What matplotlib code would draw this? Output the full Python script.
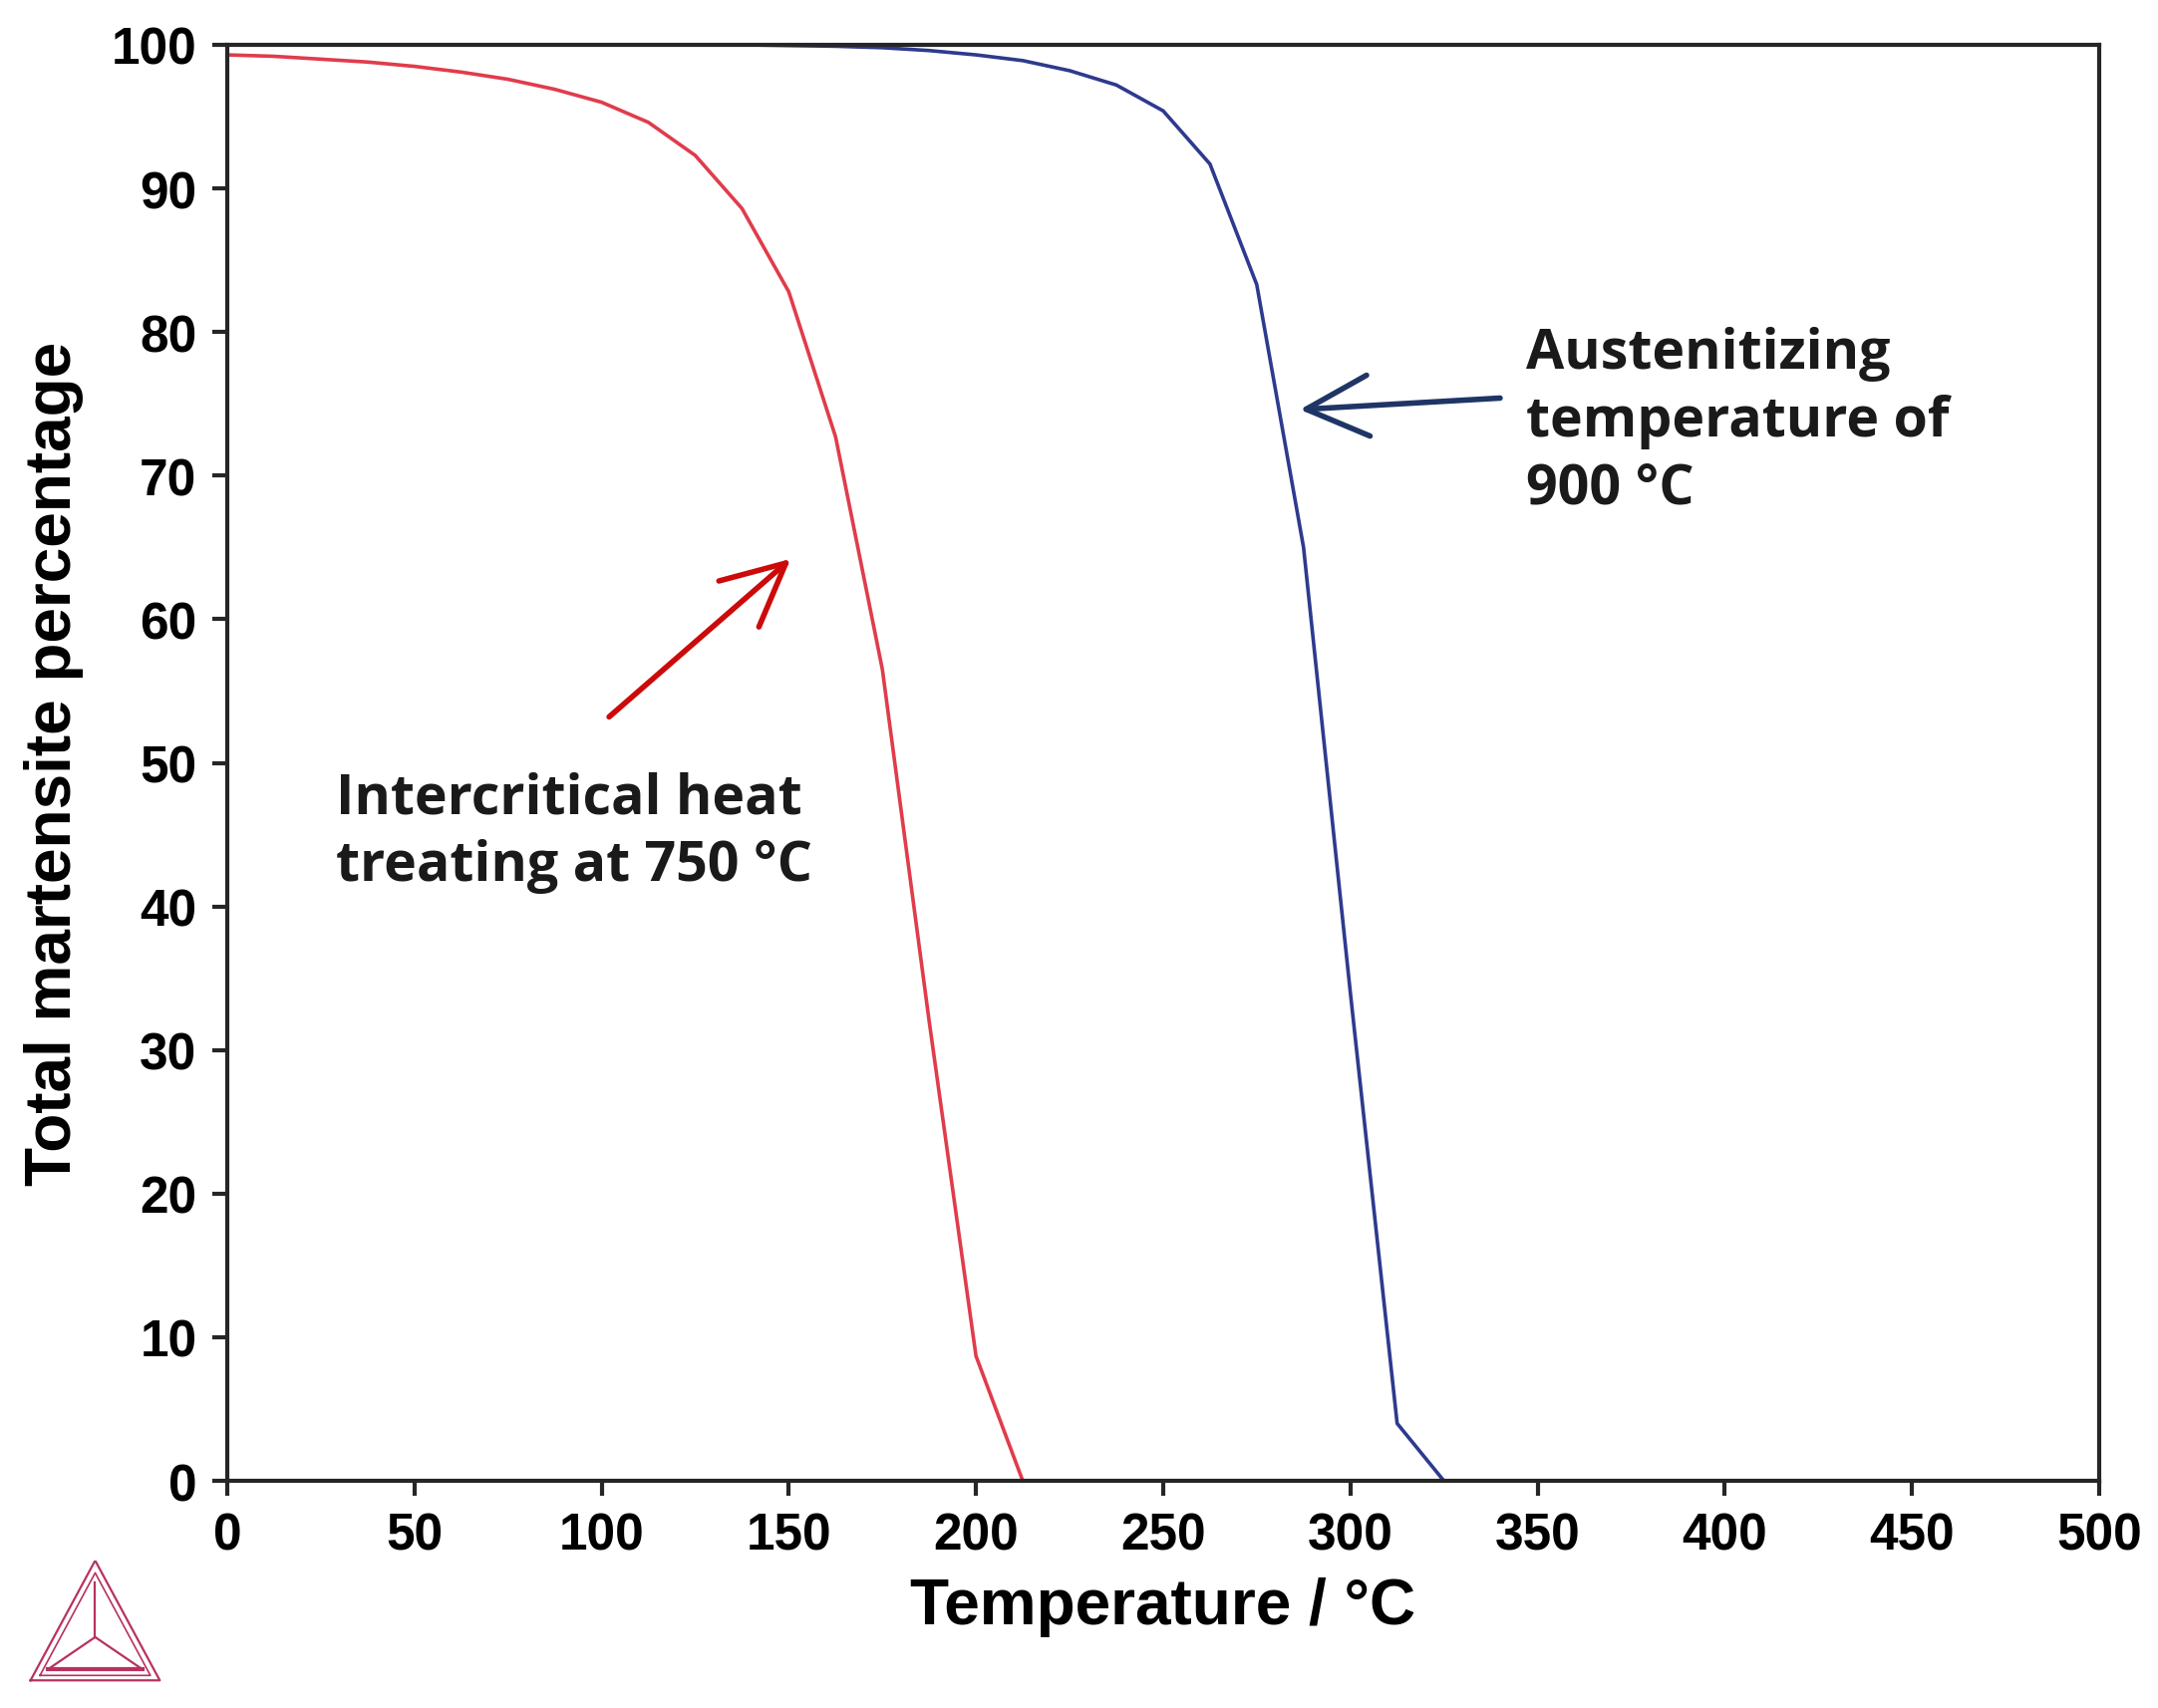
import matplotlib
matplotlib.use("Agg")
import matplotlib.pyplot as plt
from matplotlib import font_manager
import numpy as np

# curve data (temperature in degC, martensite in %)
temp_inter = [0, 12.5, 25, 37.5, 50, 62.5, 75, 87.5, 100, 112.5, 125, 137.5, 150,
              162.5, 175, 187.5, 200, 212.5, 250, 300, 350, 400, 450, 500]
mart_inter = [99.3, 99.2, 99.0, 98.8, 98.5, 98.1, 97.6, 96.9, 96.0, 94.6, 92.3, 88.6, 82.8,
              72.7, 56.5, 32.0, 8.7, 0.0, 0.0, 0.0, 0.0, 0.0, 0.0, 0.0]

temp_aust = [0, 50, 100, 137.5, 150, 162.5, 175, 187.5, 200, 212.5, 225, 237.5, 250,
             262.5, 275, 287.5, 300, 312.5, 325, 350, 400, 450, 500]
mart_aust = [100.0, 100.0, 100.0, 100.0, 99.95, 99.9, 99.8, 99.6, 99.3, 98.9, 98.2, 97.2, 95.4,
             91.7, 83.3, 65.0, 34.0, 4.0, 0.0, 0.0, 0.0, 0.0, 0.0]

x_ticks = [0, 50, 100, 150, 200, 250, 300, 350, 400, 450, 500]
y_ticks = [0, 10, 20, 30, 40, 50, 60, 70, 80, 90, 100]

RED = "#e03c4c"
BLUE = "#2e3a8e"
RED_ARROW = "#cc0a0a"
BLUE_ARROW = "#1f3566"
AXIS_COLOR = "#262626"

installed = {f.name for f in font_manager.fontManager.ttflist}
if "Liberation Sans Narrow" in installed:
    tick_family, tick_size = ["Liberation Sans Narrow", "DejaVu Sans"], 41
else:
    tick_family, tick_size = ["Liberation Sans", "DejaVu Sans"], 37

fig = plt.figure(figsize=(21.65, 17.15), dpi=100)
ax = fig.add_axes([0.1053, 0.1329, 0.8674, 0.8403])

ax.plot(temp_inter, mart_inter, color=RED, lw=2.6, solid_joinstyle="miter")
ax.plot(temp_aust, mart_aust, color=BLUE, lw=2.6, solid_joinstyle="miter")

ax.set_xlim(0, 500)
ax.set_ylim(0, 100)
ax.set_xticks(x_ticks)
ax.set_yticks(y_ticks)

tick_font = {"family": tick_family, "weight": "bold", "size": tick_size}
ax.set_xticklabels([str(t) for t in x_ticks], fontdict=tick_font)
ax.set_yticklabels([str(t) for t in y_ticks], fontdict=tick_font)
ax.tick_params(axis="both", direction="out", length=11, width=3, color=AXIS_COLOR, pad=11)

for sp in ax.spines.values():
    sp.set_linewidth(3)
    sp.set_color(AXIS_COLOR)

label_font = {"family": ["Liberation Sans", "DejaVu Sans"], "weight": "bold", "size": 46}
ax.set_xlabel("Temperature / °C", fontdict=label_font, labelpad=12)
ax.set_ylabel("Total martensite percentage", fontdict=label_font, labelpad=20)

note_font = dict(family=["Open Sans", "DejaVu Sans"], weight="bold", fontsize=40)
ax.text(347, 73.8, "Austenitizing\ntemperature of\n900 °C", ha="left", va="center",
        linespacing=1.3, color="#1a1a1a", **note_font)
ax.text(29, 45.2, "Intercritical heat\ntreating at 750 °C", ha="left", va="center",
        linespacing=1.3, color="#1a1a1a", **note_font)

ax.annotate("", xy=(286.5, 74.6), xytext=(340, 75.4),
            arrowprops=dict(arrowstyle="->,head_length=0.45,head_width=0.22",
                            color=BLUE_ARROW, lw=4, mutation_scale=100,
                            shrinkA=0, shrinkB=0))
ax.annotate("", xy=(150.5, 64.2), xytext=(102, 53.2),
            arrowprops=dict(arrowstyle="->,head_length=0.45,head_width=0.22",
                            color=RED_ARROW, lw=4, mutation_scale=100,
                            shrinkA=0, shrinkB=0))

# Thermo-Calc style logo, bottom-left corner
logo = fig.add_axes([0.0129, 0.014, 0.0624, 0.0723])
logo.set_xlim(0, 1)
logo.set_ylim(0, 1)
logo.axis("off")
lc = "#b8325e"
outer = np.array([[0.02, 0.03], [0.98, 0.03], [0.5, 1.0], [0.02, 0.03]])
outer2 = np.array([[0.09, 0.07], [0.91, 0.07], [0.5, 0.9], [0.09, 0.07]])
inner = np.array([[0.15, 0.12], [0.85, 0.12], [0.5, 0.82]])
centre = np.array([0.5, 0.38])
logo.plot(outer[:, 0], outer[:, 1], color=lc, lw=1.6)
logo.plot(outer2[:, 0], outer2[:, 1], color=lc, lw=1.2)
for v in inner:
    logo.plot([centre[0], v[0]], [centre[1], v[1]], color=lc, lw=1.6)
logo.plot([0.15, 0.85], [0.12, 0.12], color=lc, lw=3)

fig.savefig("out.png", dpi=100, facecolor="white")
